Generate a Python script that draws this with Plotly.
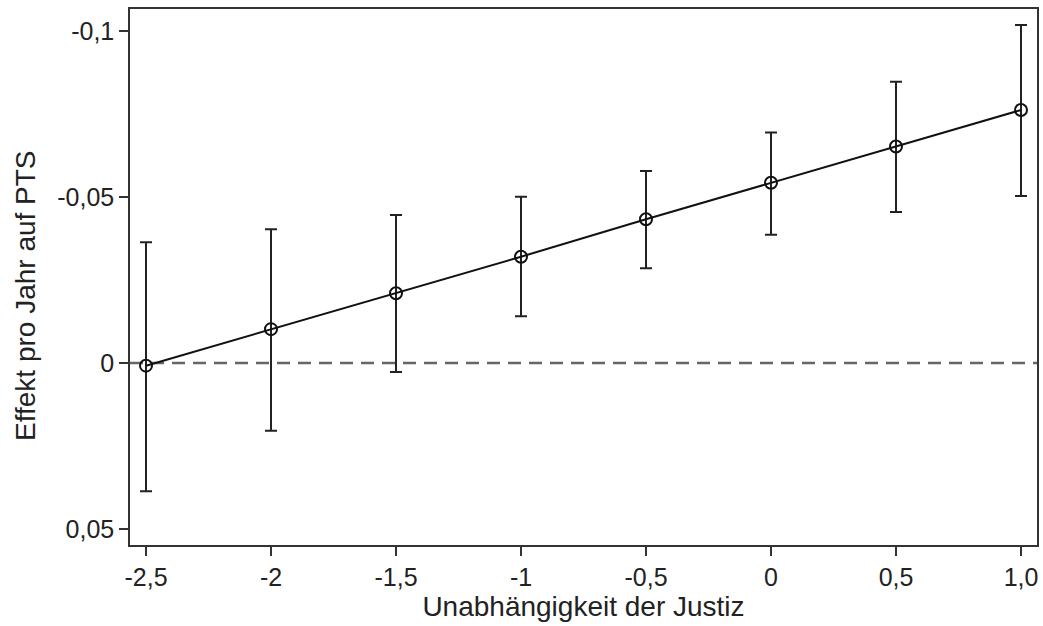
import plotly.graph_objects as go

x_vals = [-2.5, -2.0, -1.5, -1.0, -0.5, 0.0, 0.5, 1.0]
effect = [0.0008, -0.0102, -0.0210, -0.0320, -0.0433, -0.0543, -0.0652, -0.0762]
ci_low = [-0.0364, -0.0403, -0.0446, -0.0501, -0.0578, -0.0694, -0.0847, -0.1018]
ci_high = [0.0386, 0.0204, 0.0027, -0.0141, -0.0285, -0.0386, -0.0455, -0.0503]

x_ticks = [-2.5, -2.0, -1.5, -1.0, -0.5, 0.0, 0.5, 1.0]
x_ticktext = ["-2,5", "-2", "-1,5", "-1", "-0,5", "0", "0,5", "1,0"]
y_ticks = [-0.1, -0.05, 0.0, 0.05]
y_ticktext = ["-0,1", "-0,05", "0", "0,05"]

err_plus = [h - e for h, e in zip(ci_high, effect)]
err_minus = [e - l for e, l in zip(effect, ci_low)]

FONT = "Liberation Sans, Arial, sans-serif"

fig = go.Figure()
fig.add_hline(y=0, line=dict(color="#666666", width=2.5, dash="13px,8px"), layer="below")
fig.add_trace(go.Scatter(
    x=x_vals, y=effect, mode="lines+markers",
    line=dict(color="#111111", width=2),
    marker=dict(symbol="circle-open", size=12, color="#111111", line=dict(width=2)),
    error_y=dict(type="data", symmetric=False, array=err_plus, arrayminus=err_minus,
                 color="#222222", thickness=2, width=6),
    showlegend=False,
))

axis_common = dict(
    showline=True, linecolor="#333333", linewidth=1.5, mirror=True,
    ticks="outside", ticklen=9, tickwidth=1.5, tickcolor="#333333",
    showgrid=False, zeroline=False,
    tickfont=dict(family=FONT, size=25, color="#222222"),
)

fig.update_layout(
    width=1043, height=626,
    paper_bgcolor="white", plot_bgcolor="white",
    margin=dict(l=130, r=4, t=9, b=81),
    xaxis=dict(range=[-2.564, 1.064], tickvals=x_ticks, ticktext=x_ticktext,
               title=dict(text="Unabhängigkeit der Justiz", standoff=0,
                          font=dict(family=FONT, size=28, color="#222222")),
               **axis_common),
    yaxis=dict(range=[0.0548, -0.1066], tickvals=y_ticks, ticktext=y_ticktext,
               **axis_common),
)

fig.add_annotation(
    text="Effekt pro Jahr auf PTS", textangle=-90,
    xref="paper", yref="paper", x=0, y=0.4646,
    xanchor="center", yanchor="middle", xshift=-104, showarrow=False,
    font=dict(family=FONT, size=28, color="#222222"),
)

fig.write_html("out.html")
